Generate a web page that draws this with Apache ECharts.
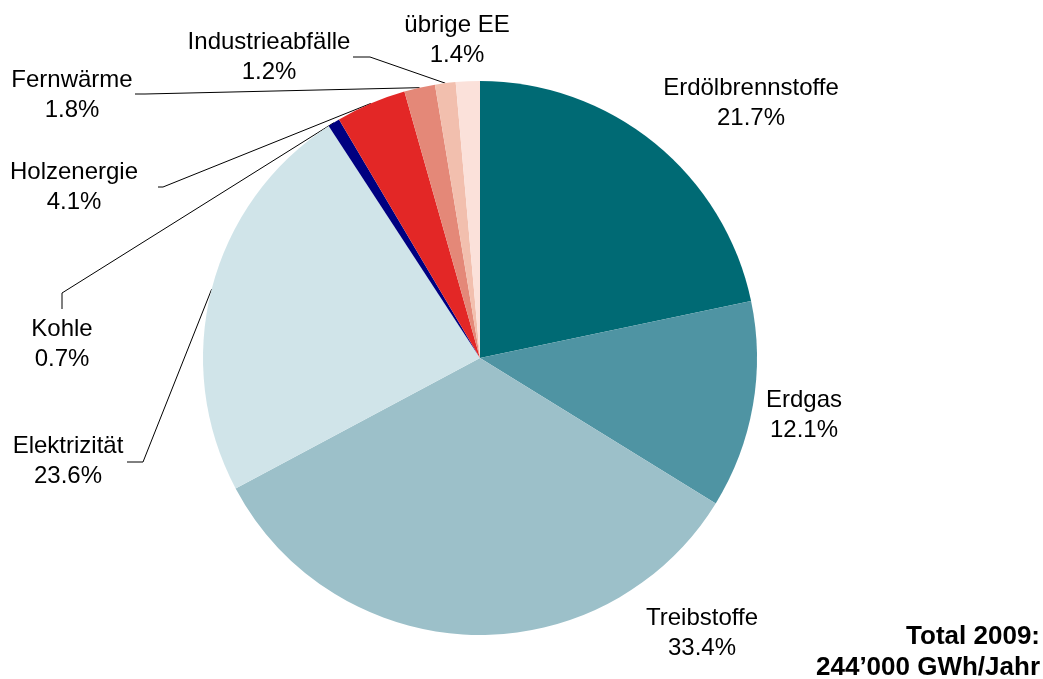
<!DOCTYPE html>
<html>
<head>
<meta charset="utf-8">
<script src="https://cdn.jsdelivr.net/npm/echarts@6/dist/echarts.min.js"></script>
<style>
  html, body { margin: 0; padding: 0; background: #fff; }
  #chart { width: 1043px; height: 679px; }
</style>
</head>
<body>
<div id="chart"></div>
<script>
// Daten
var categories = ['Erdölbrennstoffe', 'Erdgas', 'Treibstoffe', 'Elektrizität', 'Kohle',
                  'Holzenergie', 'Fernwärme', 'Industrieabfälle', 'übrige EE'];
var shares = [21.7, 12.1, 33.4, 23.6, 0.7, 4.1, 1.8, 1.2, 1.4];
var colors = ['#006a74', '#4f94a3', '#9cc0c9', '#d0e4e9', '#000080',
              '#e32726', '#e48878', '#f2bfae', '#fbe1da'];
var totalText = 'Total 2009:\n244’000 GWh/Jahr';

// Beschriftungen: Mittelpunkt des Textes, Knick- und Endpunkt der Linie
var labelPos = [[751, 103], [804, 415], [702, 633], [68, 461], [62, 344],
                [74, 187], [72, 95], [269, 57], [457, 40]];
var lineBend = [null, null, null, [143, 462], [62, 293], [163, 187], [145, 94], [370, 57], null];
var lineEnd  = [null, null, null, [127, 462], [62, 309], [158, 187], [135, 94], [353, 57], null];

var myChart = echarts.init(document.getElementById('chart'));

var pieData = categories.map(function (name, i) {
  return {
    name: name,
    value: shares[i],
    itemStyle: { color: colors[i] },
    labelLine: { show: lineEnd[i] !== null }
  };
});

var option = {
  animation: false,
  graphic: [
    {
      type: 'text',
      x: 1040,
      y: 621,
      style: {
        text: totalText,
        align: 'right',
        verticalAlign: 'top',
        fontFamily: 'Liberation Sans, Arial',
        fontSize: 26,
        fontWeight: 'bold',
        lineHeight: 31,
        fill: '#000'
      }
    }
  ],
  series: [
    {
      type: 'pie',
      center: [480, 358],
      radius: 277,
      startAngle: 90,
      clockwise: true,
      avoidLabelOverlap: false,
      data: pieData,
      label: {
        show: true,
        position: 'outside',
        formatter: function (p) {
          return p.name + '\n' + p.value.toFixed(1) + '%';
        },
        fontFamily: 'Liberation Sans, Arial',
        fontSize: 24,
        lineHeight: 30,
        color: '#000',
        align: 'center'
      },
      labelLine: {
        length: 10,
        length2: 10,
        lineStyle: { color: '#000', width: 1 }
      },
      labelLayout: function (params) {
        var i = params.dataIndex;
        var res = {
          x: labelPos[i][0],
          y: labelPos[i][1],
          align: 'center',
          verticalAlign: 'middle'
        };
        if (lineEnd[i] && params.labelLinePoints) {
          res.labelLinePoints = [params.labelLinePoints[0], lineBend[i], lineEnd[i]];
        }
        return res;
      },
      emphasis: { disabled: true }
    }
  ]
};

myChart.setOption(option);

window.addEventListener('resize', function () {
  myChart.resize();
});
</script>
</body>
</html>
